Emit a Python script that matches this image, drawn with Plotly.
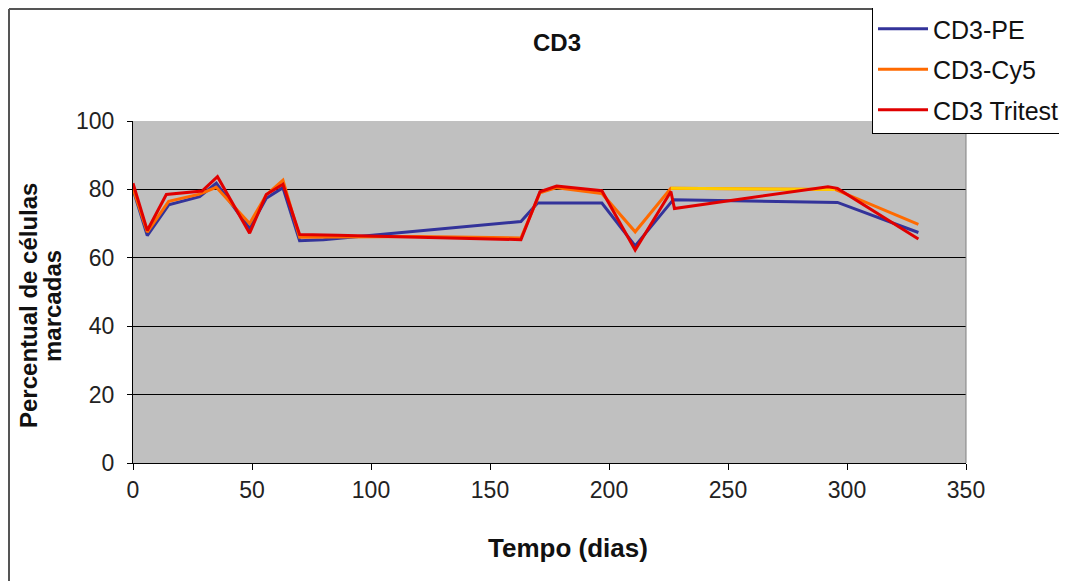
import plotly.graph_objects as go

# ---- data ----
pe_days = [0, 6, 15, 28, 35, 49, 56, 63, 70, 80, 163, 170, 197, 211, 227, 268, 296, 330]
pe_vals = [80.0, 66.5, 75.5, 77.9, 81.8, 68.6, 77.4, 80.5, 65.0, 65.3, 70.6, 76.0, 76.0, 63.5, 77.0, 76.5, 76.2, 67.4]

cy5_days = [0, 6, 15, 28, 35, 49, 56, 63, 70, 120, 163, 171, 178, 197, 211, 226, 295, 330]
cy5_vals = [80.3, 67.5, 76.5, 78.6, 80.6, 70.0, 78.4, 82.7, 66.0, 66.2, 65.8, 79.0, 80.5, 78.8, 67.6, 80.3, 80.0, 69.8]
cy5_highlight = (15, 16)  # segment drawn in yellow (indices into cy5 arrays)

tri_days = [0, 6, 14, 29, 35.5, 49, 56, 63, 70, 86, 163, 171, 178, 197, 211, 226, 227.5, 292, 296, 330]
tri_vals = [81.8, 68.0, 78.5, 79.5, 83.7, 67.2, 78.5, 81.5, 66.8, 66.6, 65.3, 79.3, 81.0, 79.6, 62.3, 79.4, 74.4, 80.8, 80.3, 65.5]

x_ticks = [0, 50, 100, 150, 200, 250, 300, 350]
y_ticks = [0, 20, 40, 60, 80, 100]

y_title_lines = ["Percentual de células", "marcadas"]
x_title = "Tempo (dias)"

FONT = "Liberation Sans, Arial, sans-serif"

fig = go.Figure()
fig.add_trace(go.Scatter(x=pe_days, y=pe_vals, mode="lines", name="CD3-PE",
                         legendgroup="a", line=dict(color="#33339A", width=3)))
fig.add_trace(go.Scatter(x=cy5_days, y=cy5_vals, mode="lines", name="CD3-Cy5",
                         legendgroup="b", line=dict(color="#FF6A00", width=3)))
i0, i1 = cy5_highlight
fig.add_trace(go.Scatter(x=cy5_days[i0:i1 + 1], y=cy5_vals[i0:i1 + 1], mode="lines",
                         showlegend=False, legendgroup="b", hoverinfo="skip",
                         line=dict(color="#FFCC00", width=3)))
fig.add_trace(go.Scatter(x=tri_days, y=tri_vals, mode="lines", name="CD3 Tritest",
                         legendgroup="c", line=dict(color="#E00000", width=3)))

OFF = 8  # page body margin
L, T = 133 - OFF, 121 - OFF
PW, PH = 833, 342
R = 1067 - L - PW
B = 581 - T - PH

def px(x):  # screen x -> paper x
    return (x - 133) / PW

def py(y):  # screen y -> paper y
    return 1 + (121 - y) / PH

fig.update_layout(
    width=1067, height=581,
    margin=dict(l=L, r=R, t=T, b=B, pad=0, autoexpand=False),
    paper_bgcolor="white",
    plot_bgcolor="#C0C0C0",
    font=dict(family=FONT, color="#111"),
    title=dict(text="<b>CD3</b>", x=(557 - OFF) / 1067, xanchor="center",
               y=1 - (43 - OFF) / 581, yanchor="middle",
               font=dict(size=24, family=FONT, color="#111")),
    xaxis=dict(range=[0, 350], tickvals=x_ticks, ticks="outside", ticklen=6,
               tickcolor="black", showline=True, linecolor="black", linewidth=1,
               showgrid=False, zeroline=False, automargin=False,
               tickfont=dict(size=23, color="#222", family=FONT)),
    yaxis=dict(range=[0, 100], tickvals=y_ticks, ticks="outside", ticklen=5,
               tickcolor="black", showline=True, linecolor="black", linewidth=1,
               showgrid=True, gridcolor="black", gridwidth=1, zeroline=False,
               automargin=False, ticklabelstandoff=8,
               tickfont=dict(size=23, color="#222", family=FONT)),
    legend=dict(x=px(872), xanchor="left", y=py(5), yanchor="top",
                bgcolor="white", bordercolor="black", borderwidth=1,
                font=dict(size=25, family=FONT, color="#111"),
                tracegroupgap=5, itemwidth=50),
    showlegend=True,
)

# axis titles as text annotations (positioned like the reference)
for txt, xc in zip(y_title_lines, [28, 52]):
    fig.add_annotation(text=f"<b>{txt}</b>", xref="paper", yref="paper",
                       x=px(xc), y=py(306), xanchor="center", yanchor="middle",
                       textangle=-90, showarrow=False,
                       font=dict(size=24, family=FONT, color="#111"))
fig.add_annotation(text=f"<b>{x_title}</b>", xref="paper", yref="paper",
                   x=px(568), y=py(548), xanchor="center", yanchor="middle",
                   showarrow=False, font=dict(size=26, family=FONT, color="#111"))

# outer chart frame (left and top edges)
fig.add_shape(type="line", xref="paper", yref="paper", x0=px(9), x1=px(9), y0=py(9), y1=py(700),
              line=dict(color="#555", width=2))
fig.add_shape(type="line", xref="paper", yref="paper", x0=px(9), x1=px(1200), y0=py(9), y1=py(9),
              line=dict(color="#555", width=2))
# plot-area right border
fig.add_shape(type="line", xref="paper", yref="paper", x0=1, x1=1, y0=0, y1=1,
              line=dict(color="#808080", width=1))

fig.write_html("out.html")
